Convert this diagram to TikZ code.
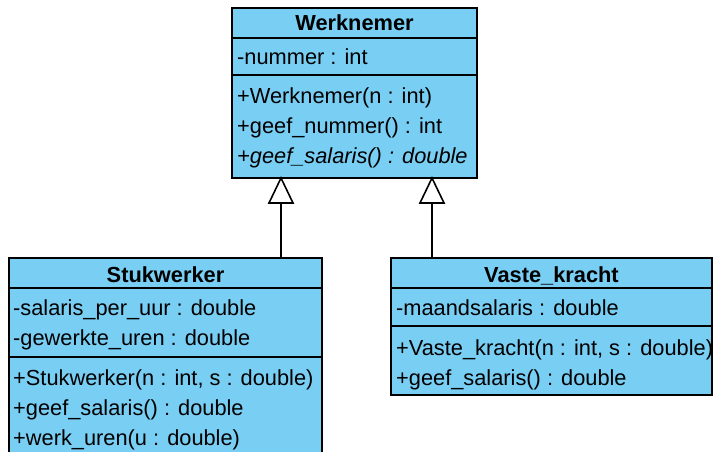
\documentclass[tikz,border=0pt]{standalone}
\usepackage{fontspec}
\setmainfont{Liberation Sans}
\definecolor{umlblue}{HTML}{79CEF3}
\tikzset{
  x=1pt,y=-1pt,
  classbox/.style={draw=black,fill=umlblue,line width=1.6pt},
  divider/.style={draw=black,line width=1.6pt},
  member/.style={anchor=base west,inner sep=0pt,font=\fontsize{21.8}{24}\selectfont},
  ititle/.style={anchor=base,inner sep=0pt,font=\fontsize{21.8}{24}\selectfont\bfseries},
  inherit/.style={draw=black,line width=1.6pt},
  tri/.style={draw=black,fill=white,line width=1.6pt,line join=miter}
}
\begin{document}
\begin{tikzpicture}
\useasboundingbox (0,0) rectangle (713,452);
\clip (0,0) rectangle (713,452);
% Werknemer
\path[classbox] (232,8) rectangle (477,178);
\draw[divider] (232,38) -- (477,38);
\draw[divider] (232,75) -- (477,75);
\node[ititle] (wt) at (354.5,31) {Werknemer};
\node[member] (w1) at (237,65) {-nummer : int};
\node[member] (w2) at (237,104) {+Werknemer(n : int)};
\node[member] (w3) at (237,134) {+geef\_nummer() : int};
\node[member] (w4) at (237,164) {\itshape +geef\_salaris() : double};
% Stukwerker
\path[classbox] (9,258) rectangle (322,480);
\draw[divider] (9,288) -- (322,288);
\draw[divider] (9,357) -- (322,357);
\node[ititle] (st) at (165.5,282) {Stukwerker};
\node[member] (s1) at (13,315) {-salaris\_per\_uur : double};
\node[member] (s2) at (13,345) {-gewerkte\_uren : double};
\node[member] (s3) at (13,385) {+Stukwerker(n : int, s : double)};
\node[member] (s4) at (13,415) {+geef\_salaris() : double};
\node[member] (s5) at (13,445) {+werk\_uren(u : double)};
% Vaste_kracht
\path[classbox] (391,258) rectangle (712,395);
\draw[divider] (391,288) -- (712,288);
\draw[divider] (391,326) -- (712,326);
\node[ititle] (vt) at (551.5,282) {Vaste\_kracht};
\node[member] (v1) at (396,315) {-maandsalaris : double};
\node[member] (v2) at (396,355) {+Vaste\_kracht(n : int, s : double)};
\node[member] (v3) at (396,385) {+geef\_salaris() : double};
% inheritance
\coordinate (a1tip) at (281,178);
\coordinate (a1base) at (281,203);
\coordinate (a1end) at (281,258);
\coordinate (a2tip) at (432,178);
\coordinate (a2base) at (432,203);
\coordinate (a2end) at (432,258);
\draw[inherit] (a1end) -- (a1base);
\draw[inherit] (a2end) -- (a2base);
\draw[tri] (a1tip) -- ++(12,25) -- ++(-24,0) -- cycle;
\draw[tri] (a2tip) -- ++(12,25) -- ++(-24,0) -- cycle;
\end{tikzpicture}
\end{document}
